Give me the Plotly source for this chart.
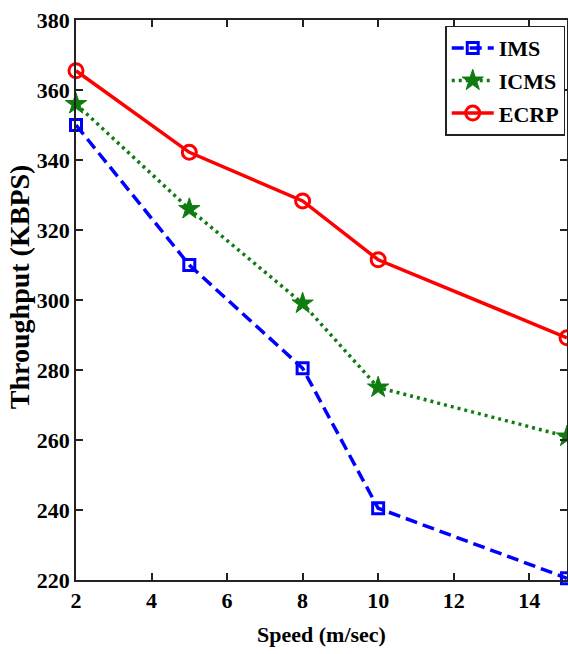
import plotly.graph_objects as go

speed = [2, 5, 8, 10, 15]
ims = [350, 310, 280.5, 240.5, 220.5]
icms = [356, 326, 299, 275, 261]
ecrp = [365.5, 342.2, 328.3, 311.5, 289.2]

x_ticks = [2, 4, 6, 8, 10, 12, 14]
y_ticks = [220, 240, 260, 280, 300, 320, 340, 360, 380]

font_family = "Liberation Serif"

fig = go.Figure()
fig.add_trace(go.Scatter(
    x=speed, y=ims, name="<b>IMS</b>", mode="lines+markers", legendgroup="a",
    line=dict(color="#0000ff", width=3.5, dash="12px,6px"),
    marker=dict(symbol="square-open", size=11, color="#0000ff", line=dict(width=3)),
    cliponaxis=False,
))
fig.add_trace(go.Scatter(
    x=speed, y=icms, name="<b>ICMS</b>", mode="lines+markers", legendgroup="b",
    line=dict(color="#107c10", width=3.5, dash="3px,4px"),
    marker=dict(symbol="star", size=16, color="#107c10", line=dict(width=1, color="#107c10")),
    cliponaxis=False,
))
fig.add_trace(go.Scatter(
    x=speed, y=ecrp, name="<b>ECRP</b>", mode="lines+markers", legendgroup="c",
    line=dict(color="#ff0000", width=3.5),
    marker=dict(symbol="circle-open", size=14, color="#ff0000", line=dict(width=3)),
    cliponaxis=False,
))

fig.update_layout(
    width=568, height=654,
    margin=dict(l=76, r=1, t=20, b=74, autoexpand=False),
    plot_bgcolor="white", paper_bgcolor="white",
    font=dict(family=font_family, color="black"),
    showlegend=True,
    legend=dict(
        x=0.752, y=0.99, xanchor="left", yanchor="top",
        bgcolor="white", bordercolor="#222", borderwidth=1.5,
        font=dict(size=22, family=font_family, color="black"),
        tracegroupgap=1, traceorder="grouped", itemwidth=42,
    ),
    xaxis=dict(
        range=[2, 15], tickvals=x_ticks, ticktext=[f"<b>{v}</b>" for v in x_ticks],
        ticks="inside", ticklen=7, tickwidth=1.5, tickcolor="#222",
        showline=True, linecolor="#222", linewidth=1.5, mirror="ticks",
        showgrid=False, zeroline=False,
        tickfont=dict(size=22, family=font_family, color="black"),
        title=dict(text="<b>Speed (m/sec)</b>", font=dict(size=22, family=font_family, color="black"), standoff=14),
    ),
    yaxis=dict(
        range=[220, 380], tickvals=y_ticks, ticktext=[f"<b>{v}</b>" for v in y_ticks],
        ticks="inside", ticklen=7, tickwidth=1.5, tickcolor="#222",
        showline=True, linecolor="#222", linewidth=1.5, mirror="ticks",
        showgrid=False, zeroline=False,
        tickfont=dict(size=22, family=font_family, color="black"),
    ),
    annotations=[dict(
        text="<b>Throughput (KBPS)</b>", textangle=-90,
        xref="paper", yref="paper", x=-0.116, y=0.523,
        xanchor="center", yanchor="middle", showarrow=False,
        font=dict(size=28, family=font_family, color="black"),
    )],
)

fig.write_html(
    "out.html",
    config={"displayModeBar": False},
    post_script="document.body.style.margin='0';document.body.style.overflow='hidden';",
)
